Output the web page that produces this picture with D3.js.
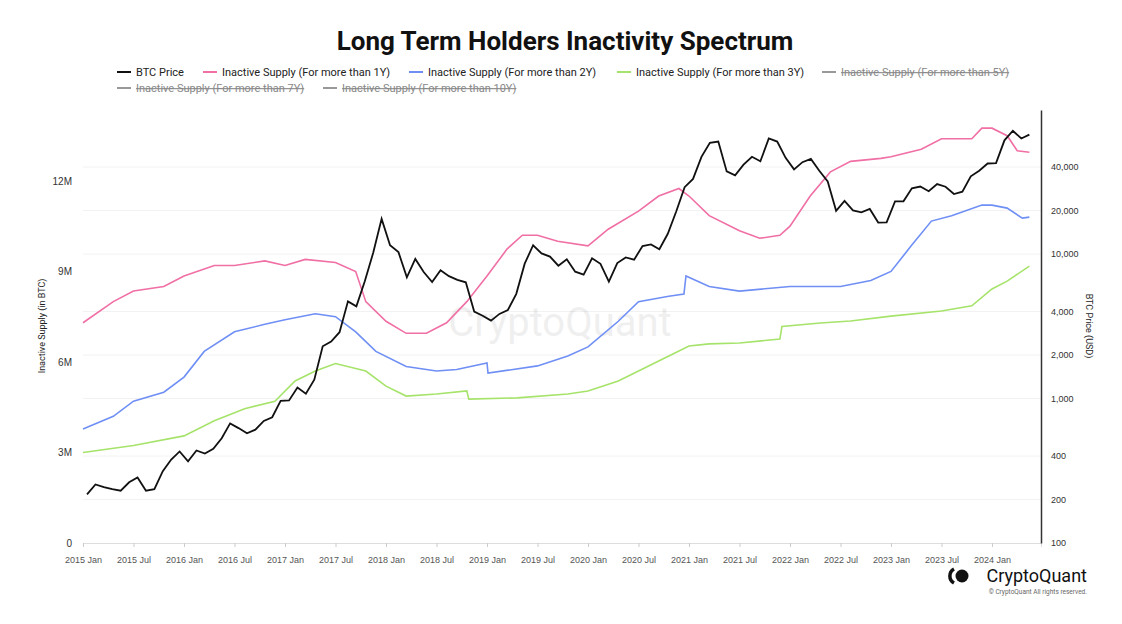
<!DOCTYPE html>
<html><head><meta charset="utf-8">
<script src="https://cdn.jsdelivr.net/npm/d3@7"></script>
<style>body{margin:0;background:#fff;font-family:Roboto,"Noto Sans",sans-serif}</style>
</head><body><svg id="c" width="1122" height="624"></svg>
<script>
// BTC monthly price (USD), Jan 2015 .. May 2024
const btcStart = 2015;
const btcPrice = [
 217,254,244,236,230,263,284,230,236,314,378,430,
 368,437,416,448,531,673,624,575,609,700,742,963,
 970,1190,1080,1350,2300,2480,2875,4700,4340,6470,10200,17500,
 11500,10300,6900,9240,7500,6400,7730,7030,6630,6370,4000,3740,
 3460,3850,4100,5300,8570,11500,10100,9600,8300,9200,7550,7200,
 9350,8550,6440,8650,9460,9140,11350,11650,10780,13800,19700,29000,
 33100,47000,58800,60000,37300,35000,41500,47100,43800,63000,60000,46300,
 38500,43200,45500,37700,31800,19900,23300,20050,19400,20500,16500,16550,
 23100,23150,28500,29300,27200,30500,29200,26000,27000,34500,37700,42300,
 42600,61200,71300,63000,67000
];
// Inactive supply series: [decimal year, value in millions BTC]
const supply1Y = [[2015.0,7.3],[2015.3,8.0],[2015.5,8.35],[2015.8,8.5],[2016.0,8.85],[2016.3,9.2],[2016.5,9.2],[2016.8,9.35],[2017.0,9.2],[2017.2,9.4],[2017.5,9.3],[2017.7,9.0],[2017.8,8.0],[2018.0,7.35],[2018.2,6.95],[2018.4,6.95],[2018.6,7.3],[2018.8,8.0],[2019.0,8.85],[2019.2,9.75],[2019.35,10.2],[2019.5,10.2],[2019.7,10.0],[2020.0,9.85],[2020.2,10.4],[2020.5,11.0],[2020.7,11.5],[2020.9,11.75],[2021.0,11.5],[2021.2,10.85],[2021.5,10.35],[2021.7,10.1],[2021.9,10.2],[2022.0,10.5],[2022.2,11.5],[2022.4,12.3],[2022.6,12.65],[2022.9,12.75],[2023.0,12.8],[2023.3,13.05],[2023.5,13.4],[2023.8,13.4],[2023.9,13.75],[2024.0,13.75],[2024.15,13.5],[2024.25,13.0],[2024.37,12.95]];
const supply2Y = [[2015.0,3.78],[2015.3,4.2],[2015.5,4.7],[2015.8,5.0],[2016.0,5.5],[2016.2,6.35],[2016.5,7.0],[2016.8,7.25],[2017.0,7.4],[2017.3,7.6],[2017.5,7.5],[2017.7,7.0],[2017.9,6.35],[2018.2,5.85],[2018.5,5.7],[2018.7,5.75],[2019.0,5.97],[2019.01,5.63],[2019.5,5.87],[2019.8,6.2],[2020.0,6.5],[2020.3,7.35],[2020.5,8.0],[2020.8,8.18],[2020.95,8.25],[2020.97,8.85],[2021.2,8.5],[2021.5,8.35],[2022.0,8.5],[2022.5,8.5],[2022.8,8.7],[2023.0,9.0],[2023.2,9.85],[2023.4,10.67],[2023.6,10.85],[2023.9,11.2],[2024.0,11.2],[2024.15,11.1],[2024.3,10.77],[2024.37,10.8]];
const supply3Y = [[2015.0,3.0],[2015.5,3.23],[2016.0,3.55],[2016.3,4.05],[2016.6,4.45],[2016.9,4.7],[2017.1,5.37],[2017.3,5.7],[2017.5,5.95],[2017.8,5.7],[2018.0,5.2],[2018.2,4.87],[2018.5,4.94],[2018.8,5.04],[2018.82,4.77],[2019.3,4.81],[2019.8,4.94],[2020.0,5.04],[2020.3,5.37],[2020.5,5.7],[2020.8,6.2],[2021.0,6.53],[2021.2,6.6],[2021.5,6.63],[2021.9,6.76],[2021.92,7.18],[2022.3,7.29],[2022.6,7.36],[2023.0,7.52],[2023.5,7.69],[2023.8,7.86],[2024.0,8.42],[2024.15,8.68],[2024.37,9.18]];
const leftTicks = [0,3,6,9,12];
const rightTicks = [100,200,400,1000,2000,4000,10000,20000,40000];
const xTickLabels = ["2015 Jan","2015 Jul","2016 Jan","2016 Jul","2017 Jan","2017 Jul","2018 Jan","2018 Jul","2019 Jan","2019 Jul","2020 Jan","2020 Jul","2021 Jan","2021 Jul","2022 Jan","2022 Jul","2023 Jan","2023 Jul","2024 Jan"];
const legendItems = [
 ["BTC Price","#111",false],["Inactive Supply (For more than 1Y)","#f06fa5",false],["Inactive Supply (For more than 2Y)","#6f8ff5",false],["Inactive Supply (For more than 3Y)","#a6e36a",false],["Inactive Supply (For more than 5Y)","#999",true],
 ["Inactive Supply (For more than 7Y)","#999",true],["Inactive Supply (For more than 10Y)","#999",true]];

const svg = d3.select("#c");
const L=83, R=1041, T=110, B=543;
const x = d3.scaleLinear().domain([2015, 2015+(R-L)/101]).range([L,R]);
const yL = d3.scaleLinear().domain([0,(B-T)/30.17]).range([B,T]);
const yR = d3.scaleLog().domain([100, Math.pow(10,2+(B-T)/144.5)]).range([B,T]);

svg.append("text").attr("x",565).attr("y",50).attr("text-anchor","middle").attr("font-size",26).attr("font-weight",700).attr("fill","#111").text("Long Term Holders Inactivity Spectrum");

const row1=[117,203,409,617,822], row2=[117,323];
legendItems.forEach((d,i)=>{
  const lx = i<5?row1[i]:row2[i-5], ly = i<5?72:88;
  const g=svg.append("g");
  g.append("line").attr("x1",lx).attr("x2",lx+14).attr("y1",ly).attr("y2",ly).attr("stroke",d[1]).attr("stroke-width",2);
  const t=g.append("text").attr("x",lx+19).attr("y",ly+4).attr("font-size",11).attr("fill",d[2]?"#888":"#222").text(d[0]);
  if(d[2]) t.attr("text-decoration","line-through");
});

svg.append("g").selectAll("line").data(rightTicks.slice(1)).join("line")
 .attr("x1",L).attr("x2",R).attr("y1",d=>yR(d)).attr("y2",d=>yR(d)).attr("stroke","#f2f2f2");

svg.append("text").attr("x",560).attr("y",336).attr("text-anchor","middle").attr("font-size",40).attr("fill","#000").attr("opacity",0.06).text("CryptoQuant");

const xa = svg.append("g").attr("transform",`translate(0,${B})`)
 .call(d3.axisBottom(x).tickValues(xTickLabels.map((d,i)=>2015+i*0.5)).tickFormat((d,i)=>xTickLabels[i]).tickSize(4));
xa.select(".domain").attr("stroke","#ddd");
xa.selectAll(".tick line").attr("stroke","#ccc");
xa.selectAll("text").attr("font-size",9).attr("fill","#555").attr("dy","1.4em");

const ya = svg.append("g").attr("transform",`translate(${L-5},0)`)
 .call(d3.axisLeft(yL).tickValues(leftTicks).tickFormat(d=>d===0?"0":d+"M").tickSize(0));
ya.select(".domain").remove();
ya.selectAll("text").attr("font-size",10).attr("fill","#333").attr("x",-6);

const yra = svg.append("g").attr("transform",`translate(${R},0)`)
 .call(d3.axisRight(yR).tickValues(rightTicks).tickFormat(d3.format(",")).tickSize(0));
yra.select(".domain").attr("stroke","#333").attr("stroke-width",1.5);
yra.selectAll("text").attr("font-size",9).attr("fill","#333").attr("x",10);

svg.append("text").attr("transform",`translate(45,326) rotate(-90)`).attr("text-anchor","middle").attr("font-size",9).attr("fill","#222").text("Inactive Supply (in BTC)");
svg.append("text").attr("transform",`translate(1086,326) rotate(90)`).attr("text-anchor","middle").attr("font-size",9).attr("fill","#222").text("BTC Price (USD)");

const lineS = d3.line().x(d=>x(d[0])).y(d=>yL(d[1]));
[[supply3Y,"#a6e36a"],[supply2Y,"#6f8ff5"],[supply1Y,"#f06fa5"]].forEach(([d,c])=>{
  svg.append("path").datum(d).attr("d",lineS).attr("fill","none").attr("stroke",c).attr("stroke-width",1.6);
});
const btc = btcPrice.map((p,i)=>[btcStart+i/12+0.04,p]);
btc[btc.length-1][0]=Math.min(btc[btc.length-1][0],2024.37);
svg.append("path").datum(btc).attr("d",d3.line().x(d=>x(d[0])).y(d=>yR(d[1])))
 .attr("fill","none").attr("stroke","#111").attr("stroke-width",1.8);

const lg=svg.append("g").attr("transform","translate(948,576)");
lg.append("circle").attr("cx",14).attr("cy",0).attr("r",6.5).attr("fill","#111");
lg.append("path").attr("d","M6,-7 A8,8 0 0 0 6,7").attr("fill","none").attr("stroke","#111").attr("stroke-width",3.5);
svg.append("text").attr("x",1087).attr("y",582).attr("text-anchor","end").attr("font-size",18).attr("fill","#111").text("CryptoQuant");
svg.append("text").attr("x",1087).attr("y",594).attr("text-anchor","end").attr("font-size",6.5).attr("fill","#666").text("© CryptoQuant All rights reserved.");
</script></body></html>
